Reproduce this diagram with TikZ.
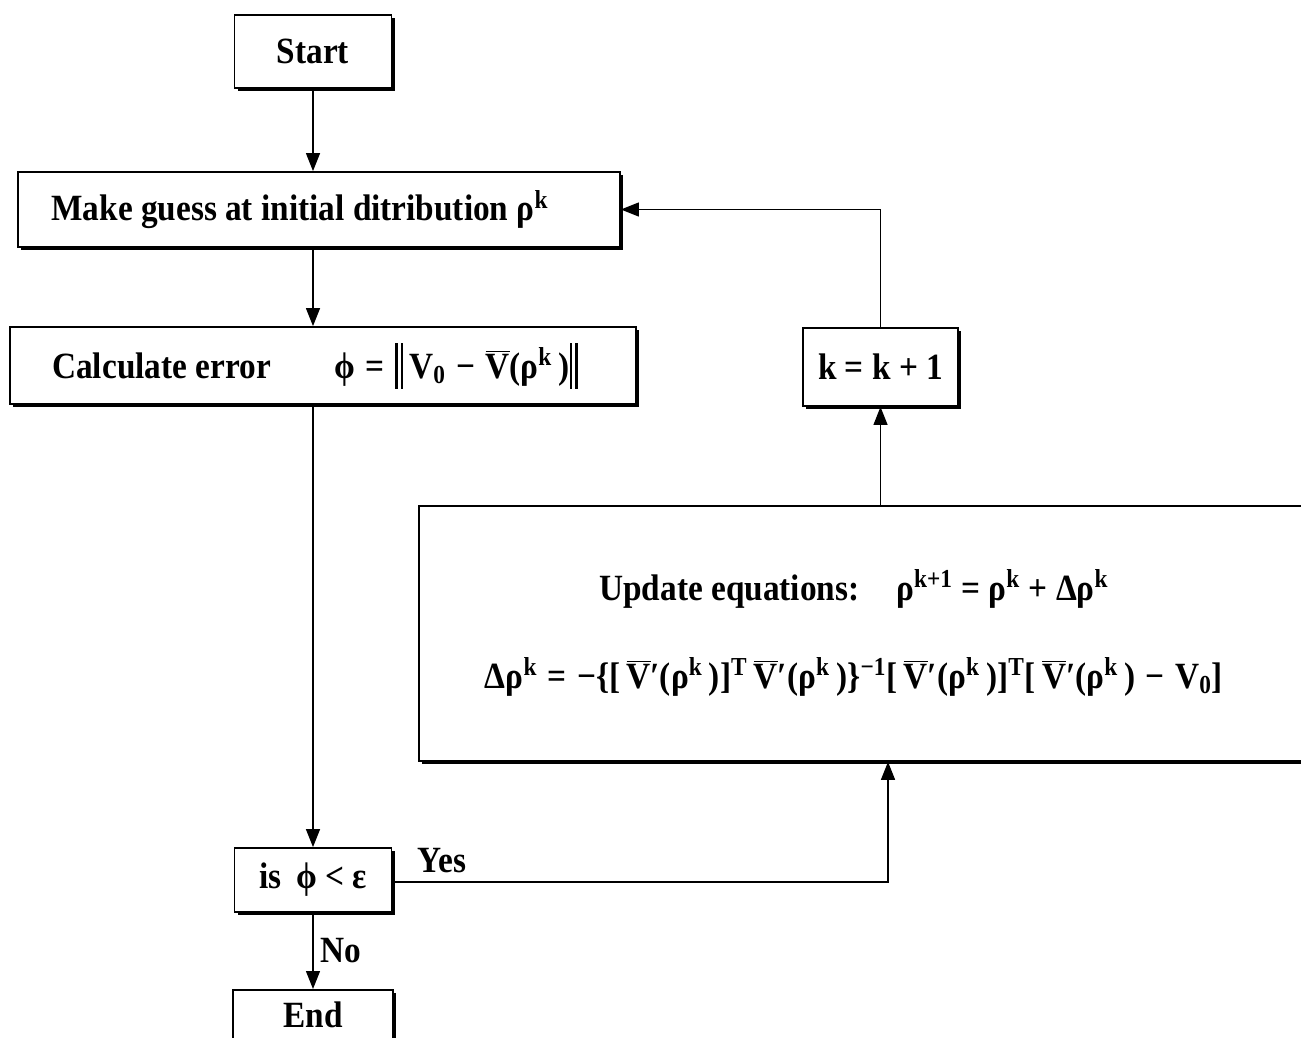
\documentclass[tikz,border=0pt]{standalone}
\usepackage{fontspec}
\setmainfont{Liberation Serif}[FakeStretch=0.9]
\usetikzlibrary{shadows}
\usetikzlibrary{positioning}
\usetikzlibrary{arrows.meta}

\tikzset{
  blk/.style={draw, line width=0.9pt, fill=white, inner sep=0pt,
    drop shadow={shadow xshift=1.6pt, shadow yshift=-1.6pt, opacity=1, fill=black}},
  arr/.style={line width=0.6pt, -{Triangle[length=9pt,width=7pt]}},
}
\newcommand{\Vbar}{$\overline{\mbox{V}}$}
\newcommand{\pk}{ρ\textsuperscript{k}}
\newcommand{\nbar}{\rule[-5pt]{1.2pt}{23pt}\hspace{1.6pt}\rule[-5pt]{1.2pt}{23pt}}

\begin{document}
\begin{tikzpicture}[x=0.5pt, y=-0.5pt, font=\bfseries\fontsize{18.5}{22}\selectfont]

 \useasboundingbox (0,0) rectangle (1301,1038);
 \clip (0,0) rectangle (1301,1038);

 %left column
 \node[blk, minimum width=78.5pt, minimum height=36.5pt] (start) at (313,51.5) {Start};
 \node[blk, minimum width=301pt, minimum height=37.5pt] (guess) at (319,209.5) {Make guess at initial ditribution \pk\kern19pt};
 \node[blk, minimum width=313pt, minimum height=38.5pt] (error) at (323,365.5)
   {Calculate error\hspace{32pt}ϕ\;=\;\nbar\,V\textsubscript{0}\;−\;\Vbar(\pk\,)\nbar\kern8pt};
 \node[blk, minimum width=78.5pt, minimum height=32pt] (test) at (313,880) {is\, ϕ < ε};
 \node[blk, anchor=north, minimum width=80pt, text height=13pt, text depth=20pt, inner ysep=6pt] (stop) at (313,989) {End};

 %right column
 \node[blk, minimum width=77.5pt, minimum height=39pt] (incr) at (880.5,367) {k = k + 1};
 \node[blk, anchor=north west, minimum width=460pt, minimum height=127.5pt] (update) at (418,505) {};
 \node[align=center] (eqs) at (854,633)
   {Update equations:\quad ρ\textsuperscript{k+1} = \pk{} + Δ\pk\\[22pt]
    Δ\pk\;=\;−\{[\,\Vbar′(\pk\,)]\textsuperscript{T}\,\Vbar′(\pk\,)\}\textsuperscript{−1}[\,\Vbar′(\pk\,)]\textsuperscript{T}[\,\Vbar′(\pk\,)\;−\;V\textsubscript{0}]};

 %arrows
 \draw[arr] (start.south) -- (start.south |- guess.north);
 \draw[arr] (start.south |- guess.south) -- (start.south |- error.north);
 \draw[arr] (test.north |- error.south) -- (test.north);
 \draw[arr] (test.south) -- node[right]{No} (stop.north);

 \coordinate (yesturn) at (888,882);
 \draw[arr] (test.east |- yesturn) -- node[pos=0.1, above=1pt]{Yes} (yesturn) -- (yesturn |- update.south);
 \draw[arr] (incr.south |- update.north) -- (incr.south);
 \draw[arr] (incr.north) |- (guess.east);

\end{tikzpicture}
\end{document}
